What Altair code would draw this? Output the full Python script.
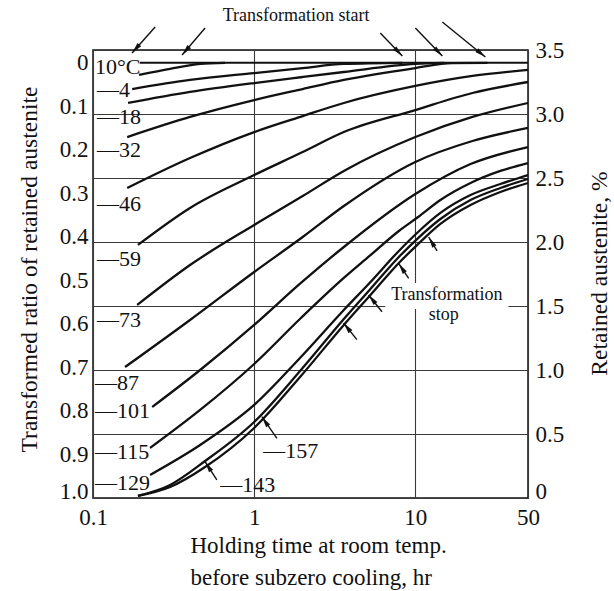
import math
import altair as alt
import pandas as pd

# ---- Retained austenite (%) after subzero cooling vs. holding time at room temp (hr) ----
FULL = 3.4  # retained austenite with no transformation (transformed ratio 0)

t10_h    = [0.193, 0.301, 0.462, 0.660]
t10_pct  = [3.305, 3.352, 3.391, 3.400]
m4_h     = [0.175, 0.40, 1.0, 2.0, 3.6, 8.3]
m4_pct   = [3.195, 3.266, 3.320, 3.359, 3.391, 3.400]
m18_h    = [0.165, 0.40, 1.0, 2.0, 3.6, 10, 15.1]
m18_pct  = [3.086, 3.172, 3.242, 3.289, 3.328, 3.391, 3.400]
m32_h    = [0.163, 0.40, 1.0, 2.0, 3.6, 10, 16.9, 28]
m32_pct  = [2.820, 2.977, 3.109, 3.195, 3.266, 3.359, 3.398, 3.400]
m46_h    = [0.163, 0.40, 1.0, 2.0, 3.6, 10, 22.6, 50]
m46_pct  = [2.422, 2.656, 2.859, 2.984, 3.086, 3.219, 3.297, 3.344]
m59_h    = [0.190, 0.40, 1.0, 2.0, 3.6, 10, 22.6, 50]
m59_pct  = [1.977, 2.266, 2.523, 2.703, 2.859, 3.031, 3.164, 3.250]
m73_h    = [0.188, 0.40, 1.0, 2.0, 3.6, 10, 22.6, 50]
m73_pct  = [1.508, 1.820, 2.133, 2.359, 2.555, 2.820, 2.977, 3.086]
m87_h    = [0.158, 0.40, 1.0, 2.0, 3.6, 10, 22.6, 50]
m87_pct  = [1.023, 1.391, 1.766, 2.039, 2.281, 2.625, 2.789, 2.891]
m101_h   = [0.233, 0.462, 1.0, 1.95, 3.6, 10, 22, 50]
m101_pct = [0.711, 1.000, 1.352, 1.680, 1.961, 2.375, 2.609, 2.742]
m115_h   = [0.226, 0.462, 1.0, 1.95, 3.6, 5.2, 7.9, 10.4, 14.3, 22, 33.7, 50]
m115_pct = [0.391, 0.688, 1.047, 1.406, 1.719, 1.891, 2.086, 2.195, 2.328, 2.461, 2.555, 2.617]
m129_h   = [0.226, 0.462, 1.0, 1.95, 3.6, 5.2, 7.9, 10.4, 14.3, 22, 33.7, 50]
m129_pct = [0.180, 0.414, 0.727, 1.102, 1.469, 1.680, 1.930, 2.078, 2.227, 2.367, 2.453, 2.523]
m143_h   = [0.190, 0.301, 0.496, 1.0, 1.95, 3.6, 5.2, 7.9, 10.4, 14.3, 22, 33.7, 50]
m143_pct = [0.016, 0.102, 0.289, 0.594, 1.000, 1.398, 1.625, 1.883, 2.031, 2.180, 2.328, 2.422, 2.492]
m157_h   = [0.190, 0.301, 0.496, 1.0, 1.95, 3.6, 5.2, 7.9, 10.4, 14.3, 22, 33.7, 50]
m157_pct = [0.016, 0.086, 0.242, 0.547, 0.953, 1.352, 1.578, 1.836, 1.984, 2.141, 2.289, 2.391, 2.461]

curves = {
    "10": (t10_h, t10_pct), "-4": (m4_h, m4_pct), "-18": (m18_h, m18_pct),
    "-32": (m32_h, m32_pct), "-46": (m46_h, m46_pct), "-59": (m59_h, m59_pct),
    "-73": (m73_h, m73_pct), "-87": (m87_h, m87_pct), "-101": (m101_h, m101_pct),
    "-115": (m115_h, m115_pct), "-129": (m129_h, m129_pct),
    "-143": (m143_h, m143_pct), "-157": (m157_h, m157_pct),
}

# Axis ticks
x_ticks = [0.1, 1, 10, 50]
pct_ticks = [0, 0.5, 1.0, 1.5, 2.0, 2.5, 3.0, 3.5]
ratio_ticks = [0, 0.1, 0.2, 0.3, 0.4, 0.5, 0.6, 0.7, 0.8, 0.9, 1.0]

# Temperature labels (anchored at their left edge)
label_text = ["10°C", "—4", "—18", "—32", "—46", "—59", "—73", "—87",
              "—101", "—115", "—129", "—143", "—157"]
label_h    = [0.103, 0.106, 0.106, 0.106, 0.106, 0.106, 0.106, 0.103,
              0.103, 0.103, 0.103, 0.615, 1.137]
label_pct  = [3.37, 3.19, 2.98, 2.72, 2.30, 1.87, 1.39, 0.90,
              0.676, 0.363, 0.117, 0.10, 0.367]

# Arrows: tail (h0, p0) -> tip (h1, p1)
arrow_h0 = [0.243, 0.496, 6.06, 10.0, 14.7, 13.64, 9.09, 6.21, 4.34, 1.384, 0.5865]
arrow_p0 = [3.680, 3.672, 3.633, 3.672, 3.719, 1.930, 1.716, 1.455, 1.237, 0.466, 0.141]
arrow_h1 = [0.1747, 0.357, 8.30, 14.7, 27.2, 12.09, 7.88, 5.13, 3.585, 1.116, 0.496]
arrow_p1 = [3.477, 3.461, 3.453, 3.453, 3.445, 2.039, 1.833, 1.586, 1.367, 0.635, 0.284]

# ---- Layout / style ----
W, H = 435, 448
X_MIN, X_MAX, Y_MAX = 0.1, 50, 3.5
SERIF = "Liberation Serif"
INK = "#111111"
ARROW = "M0,0L0.35,1.6L-0.35,1.6Z"

rows = []
for temp, (hs, ps) in curves.items():
    for h, p in zip(hs, ps):
        rows.append({"temp": temp, "h": h, "pct": p})
curve_df = pd.DataFrame(rows)

ref_df = pd.DataFrame({"h": [0.195, 50], "pct": [FULL, FULL]})
label_df = pd.DataFrame({"label": label_text, "h": label_h, "pct": label_pct})

dec_px = W / math.log10(X_MAX / X_MIN)
pct_px = H / Y_MAX


def heading(h0, p0, h1, p1):
    sx = dec_px * (math.log10(h1) - math.log10(h0))
    sy = -pct_px * (p1 - p0)
    return math.degrees(math.atan2(sx, -sy)) % 360


arrow_df = pd.DataFrame({"h0": arrow_h0, "p0": arrow_p0, "h1": arrow_h1, "p1": arrow_p1})
arrow_df["angle"] = [heading(*r) for r in zip(arrow_h0, arrow_p0, arrow_h1, arrow_p1)]

note_df = pd.DataFrame({
    "label": ["Transformation start", "Transformation", "stop"],
    "h": [1.82, 15.7, 15.0],
    "pct": [3.766, 1.586, 1.430],
})
box_df = pd.DataFrame({"h0": [6.51], "h1": [37.8], "p0": [1.477], "p1": [1.680]})

x_scale = alt.Scale(type="log", domain=[X_MIN, X_MAX], nice=False)
y_scale = alt.Scale(domain=[0, Y_MAX], nice=False, zero=False)

x_axis = alt.Axis(
    orient="bottom",
    values=x_ticks,
    labelExpr="datum.value < 1 ? format(datum.value, '.1f') : format(datum.value, 'd')",
    grid=True, ticks=False, domain=False, labelFlush=False,
    labelPadding=8, labelFontSize=23,
    title=["Holding time at room temp.", "before subzero cooling, hr"],
    titleAlign="left", titleX=97, titleY=47, titleBaseline="middle",
    titleLineHeight=32, titleFontSize=23, titleAngle=0,
)
left_axis = alt.Axis(
    orient="left",
    values=[round(FULL * (1 - r), 6) for r in ratio_ticks],
    labelExpr="abs(1 - datum.value / 3.4) < 0.001 ? '0' : format(1 - datum.value / 3.4, '.1f')",
    grid=False, ticks=False, domain=False, labelFlush=False,
    labelPadding=5, labelFontSize=23,
    labelOffset={"condition": {"test": "datum.value < 0.01", "value": -7}, "value": 0},
    title="Transformed ratio of retained austenite",
    titleX=-64, titleY=219, titleAngle=270, titleAlign="center",
    titleBaseline="middle", titleFontSize=23.5,
)
right_axis = alt.Axis(
    orient="right",
    values=pct_ticks,
    labelExpr="datum.value == 0 ? '0' : format(datum.value, '.1f')",
    grid=True, ticks=False, domain=False, labelFlush=False,
    labelPadding=7, labelFontSize=23,
    labelOffset={"condition": {"test": "datum.value < 0.01", "value": -7}, "value": 0},
    title="Retained austenite, %",
    titleX=71, titleY=223, titleAngle=270, titleAlign="center",
    titleBaseline="middle", titleFontSize=23.5,
)


def X(field="h"):
    return alt.X(f"{field}:Q", scale=x_scale, axis=x_axis)


def Y(field="pct", axis=None):
    return alt.Y(f"{field}:Q", scale=y_scale, axis=axis)


ref_line = alt.Chart(ref_df).mark_line(color=INK, strokeWidth=2).encode(
    x=X(), y=Y(axis=right_axis)
)

box = alt.Chart(box_df).mark_rect(color="white").encode(
    x=X("h0"), x2="h1", y=Y("p0"), y2="p1"
)

lines = alt.Chart(curve_df).mark_line(
    color=INK, strokeWidth=2.3, interpolate="monotone"
).encode(x=X(), y=Y(axis=left_axis), detail="temp:N")

labels = alt.Chart(label_df).mark_text(
    align="left", baseline="middle", font=SERIF, fontSize=22, color=INK
).encode(x=X(), y=Y(), text="label:N")

shafts = alt.Chart(arrow_df).mark_rule(color=INK, strokeWidth=1.4).encode(
    x=X("h0"), x2="h1", y=Y("p0"), y2="p1"
)

heads = alt.Chart(arrow_df).mark_point(
    shape=ARROW, filled=True, size=190, color=INK, opacity=1
).encode(x=X("h1"), y=Y("p1"), angle=alt.Angle("angle:Q", scale=None))

notes = alt.Chart(note_df).mark_text(
    align="center", baseline="middle", font=SERIF, fontSize=18, color=INK
).encode(x=X(), y=Y(), text="label:N")

chart = (
    alt.layer(ref_line, box, lines, labels, shafts, heads, notes)
    .resolve_axis(y="independent")
    .properties(
        width=W, height=H,
        padding={"left": 93, "top": 50, "right": 86, "bottom": 93},
        autosize=alt.AutoSizeParams(type="none"),
    )
    .configure_view(stroke=INK, strokeWidth=1.5)
    .configure_axis(
        labelFont=SERIF, titleFont=SERIF, labelColor=INK, titleColor=INK,
        titleFontWeight="normal", gridColor="#3a3a3a", gridWidth=1.1,
    )
)

chart.save("out.html", embed_options={"renderer": "svg", "actions": False})
